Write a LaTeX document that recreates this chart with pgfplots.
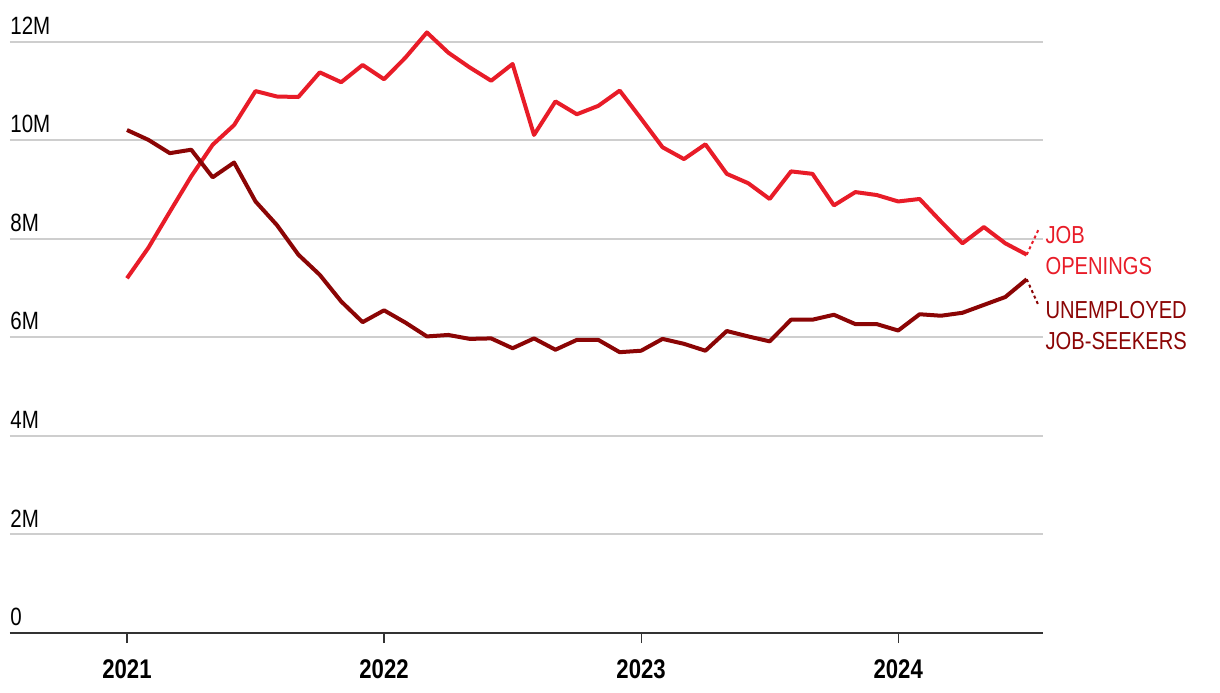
\documentclass[border=0pt]{standalone}
\usepackage{fontspec}
\setmainfont{Liberation Sans}[FakeStretch=0.82]
\usepackage{pgfplots}
\usepackage{pgfplotstable}
\pgfplotsset{compat=1.18}
\definecolor{jobred}{RGB}{232,28,40}
\definecolor{unemp}{RGB}{139,5,5}
\definecolor{gridc}{RGB}{206,206,206}
\definecolor{axisc}{RGB}{51,51,51}
\pgfplotstableread{
m v
0 7.20
1 7.82
2 8.55
3 9.27
4 9.91
5 10.31
6 11.00
7 10.89
8 10.88
9 11.38
10 11.18
11 11.53
12 11.24
13 11.68
14 12.19
15 11.78
16 11.48
17 11.21
18 11.55
19 10.11
20 10.79
21 10.53
22 10.70
23 11.01
24 10.44
25 9.86
26 9.62
27 9.92
28 9.32
29 9.13
30 8.81
31 9.37
32 9.32
33 8.68
34 8.95
35 8.89
36 8.76
37 8.81
38 8.35
39 7.91
40 8.24
41 7.91
42 7.68
}\openings
\pgfplotstableread{
m v
0 10.21
1 10.01
2 9.74
3 9.81
4 9.25
5 9.55
6 8.76
7 8.28
8 7.68
9 7.27
10 6.73
11 6.31
12 6.55
13 6.30
14 6.02
15 6.05
16 5.97
17 5.98
18 5.78
19 5.98
20 5.75
21 5.95
22 5.95
23 5.70
24 5.73
25 5.97
26 5.87
27 5.73
28 6.13
29 6.02
30 5.92
31 6.36
32 6.36
33 6.46
34 6.27
35 6.27
36 6.14
37 6.47
38 6.44
39 6.50
40 6.66
41 6.82
42 7.18
}\unemployed
\begin{document}
\begin{tikzpicture}
\begin{axis}[
 at={(0,0)}, anchor=south west,
 scale only axis, width=516.5pt, height=301.5pt,
 xmin=-5.46, xmax=42.76, ymin=0, ymax=12.24,
 axis x line*=bottom, axis y line*=left,
 y axis line style={draw=none},
 x axis line style={draw=axisc, line width=1.3pt, -},
 xtick={0,12,24,36}, xticklabels={2021,2022,2023,2024},
 xtick style={draw=axisc, line width=0.6pt},
 major tick length=5pt,
 xtick align=outside,
 xticklabel style={font=\fontsize{13.5}{15}\selectfont\bfseries, yshift=-5pt},
 ytick={0,2,4,6,8,10,12}, yticklabels={0,2M,4M,6M,8M,10M,12M},
 ytick style={draw=none},
 yticklabel style={anchor=south west, inner sep=0pt, font=\fontsize{12.5}{15}\selectfont, yshift=3.5pt},
 ymajorgrids, grid style={gridc, line width=1pt},
 clip=false,
]
\addplot[jobred, line width=2pt, line join=round] table[x=m, y=v] {\openings};
\addplot[unemp, line width=2pt, line join=round] table[x=m, y=v] {\unemployed};
\draw[jobred, line width=1pt, dash pattern=on 1.5pt off 1.5pt] (axis cs:42,7.68) -- (axis cs:42.54,8.18);
\draw[unemp, line width=1pt, dash pattern=on 1.5pt off 1.5pt] (axis cs:42,7.18) -- (axis cs:42.54,6.66);
\node[anchor=base west, text=jobred, inner sep=0pt, font=\fontsize{12.3}{15}\selectfont] at (axis cs:42.86,7.913) {JOB};
\node[anchor=base west, text=jobred, inner sep=0pt, font=\fontsize{12.3}{15}\selectfont] at (axis cs:42.86,7.27) {OPENINGS};
\node[anchor=base west, text=unemp, inner sep=0pt, font=\fontsize{12.3}{15}\selectfont] at (axis cs:42.86,6.39) {UNEMPLOYED};
\node[anchor=base west, text=unemp, inner sep=0pt, font=\fontsize{12.3}{15}\selectfont] at (axis cs:42.86,5.76) {JOB-SEEKERS};
\end{axis}
\pgfresetboundingbox
\path[use as bounding box] (-5pt,-29.5pt) rectangle (605pt,316.5pt);
\end{tikzpicture}
\end{document}
